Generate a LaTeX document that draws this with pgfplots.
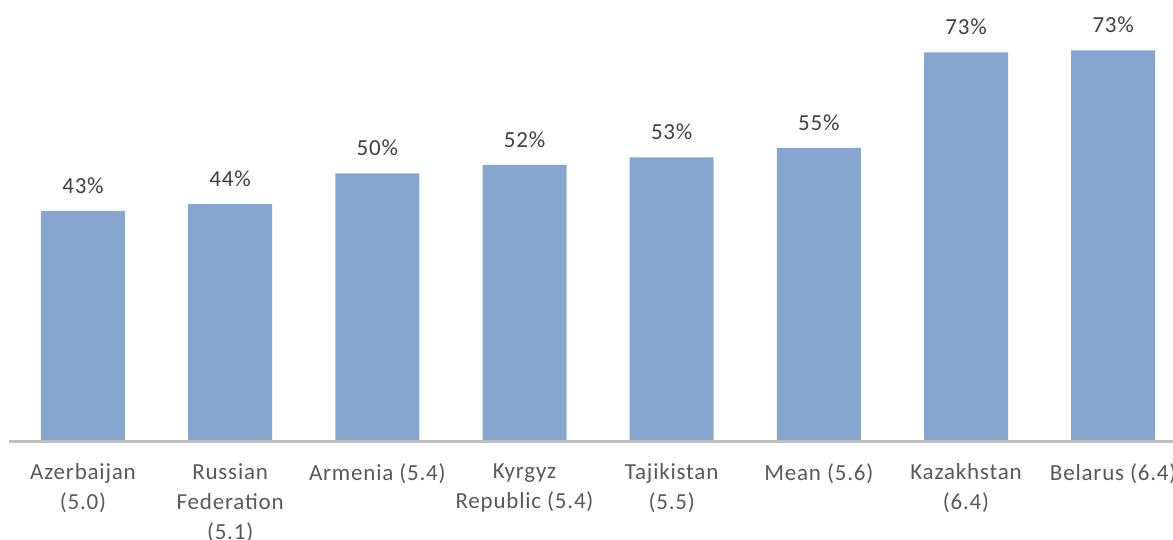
\documentclass[border=0pt]{standalone}
\usepackage{fontspec}
\setmainfont{Carlito}[LetterSpace=3.5]
\usepackage{pgfplots}
\pgfplotsset{compat=1.18}
\definecolor{barblue}{HTML}{84A6CF}
\definecolor{axisgray}{HTML}{BFBFBF}
\definecolor{ticktext}{HTML}{595959}
\definecolor{valtext}{HTML}{404040}

\begin{document}
\begin{tikzpicture}
% visible frame of the figure; the plot area runs past its right edge
\path[use as bounding box, clip] (0,0) rectangle (586.5pt,270pt);
\begin{axis}[
  at={(4.7pt,49.35pt)}, anchor=south west,
  scale only axis, width=588.7pt, height=220.65pt,
  xmin=-0.5, xmax=7.5, ymin=0, ymax=82.39,
  ybar, bar width=42pt,
  axis x line*=bottom, axis y line=none,
  x axis line style={draw=axisgray, line width=1.35pt, -},
  axis on top,
  xtick=data, major tick length=0pt,
  xticklabels={
    {Azerbaijan\\(5.0)},
    {Russian\\Federation\\(5.1)},
    {Armenia (5.4)},
    {Kyrgyz\\Republic (5.4)},
    {Tajikistan\\(5.5)},
    {Mean (5.6)},
    {Kazakhstan\\(6.4)},
    {Belarus (6.4)}},
  xticklabel style={align=center, anchor=north, inner sep=0pt,
    yshift=-11pt, text=ticktext, font=\fontsize{11.5}{15}\selectfont},
  /pgf/number format/assume math mode=true,
  nodes near coords={\pgfmathprintnumber[fixed,precision=0,assume math mode=true]{\pgfplotspointmeta}\%},
  every node near coord/.append style={anchor=base, inner sep=0pt,
    yshift=8.85pt, text=valtext, font=\fontsize{11.5}{15}\selectfont},
]
\addplot[fill=barblue, draw=none] coordinates {
  (0,43.0) (1,44.3) (2,50.0) (3,51.6) (4,53.0) (5,54.8) (6,72.6) (7,73.0)
};
\end{axis}
\end{tikzpicture}
\end{document}
